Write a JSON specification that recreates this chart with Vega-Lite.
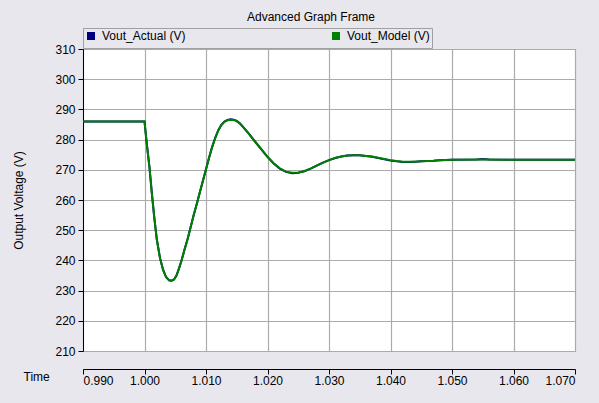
{
  "$schema": "https://vega.github.io/schema/vega-lite/v6.json",
  "width": 492,
  "height": 302,
  "autosize": {"type": "none"},
  "padding": {"left": 83, "top": 49, "right": 24, "bottom": 52},
  "background": "#e8e7ee",
  "title": {"text": "Advanced Graph Frame", "font": "Liberation Sans", "fontSize": 12, "fontWeight": "normal", "color": "#000000", "anchor": "middle", "dx": -18, "offset": 4},
  "config": {
    "view": {"fill": "white", "stroke": "#a0a0a0"},
    "axis": {"labelFont": "Liberation Sans", "labelFontSize": 12, "labelColor": "#000000", "titleFont": "Liberation Sans", "titleFontSize": 12, "titleFontWeight": "normal", "titleColor": "#000000", "domainColor": "#000000", "tickColor": "#000000", "gridColor": "#ababab", "gridWidth": 1.2, "tickSize": 5},
    "legend": {"labelFont": "Liberation Sans", "labelFontSize": 12, "labelColor": "#000000"}
  },
  "data": {"values": [
    {"t": 0.990, "v": 286.0, "s": "Vout_Actual (V)"},
    {"t": 1.0000, "v": 286.0, "s": "Vout_Actual (V)"},
    {"t": 1.0004, "v": 278.2, "s": "Vout_Actual (V)"},
    {"t": 1.0008, "v": 271.0, "s": "Vout_Actual (V)"},
    {"t": 1.0012, "v": 262.2, "s": "Vout_Actual (V)"},
    {"t": 1.0016, "v": 254.0, "s": "Vout_Actual (V)"},
    {"t": 1.0020, "v": 247.0, "s": "Vout_Actual (V)"},
    {"t": 1.0025, "v": 241.0, "s": "Vout_Actual (V)"},
    {"t": 1.0030, "v": 237.0, "s": "Vout_Actual (V)"},
    {"t": 1.0035, "v": 234.5, "s": "Vout_Actual (V)"},
    {"t": 1.0040, "v": 233.4, "s": "Vout_Actual (V)"},
    {"t": 1.0044, "v": 233.3, "s": "Vout_Actual (V)"},
    {"t": 1.0048, "v": 233.7, "s": "Vout_Actual (V)"},
    {"t": 1.0052, "v": 235.0, "s": "Vout_Actual (V)"},
    {"t": 1.0056, "v": 237.3, "s": "Vout_Actual (V)"},
    {"t": 1.0060, "v": 239.8, "s": "Vout_Actual (V)"},
    {"t": 1.0065, "v": 243.5, "s": "Vout_Actual (V)"},
    {"t": 1.0070, "v": 247.0, "s": "Vout_Actual (V)"},
    {"t": 1.0075, "v": 251.0, "s": "Vout_Actual (V)"},
    {"t": 1.0080, "v": 255.0, "s": "Vout_Actual (V)"},
    {"t": 1.0085, "v": 258.7, "s": "Vout_Actual (V)"},
    {"t": 1.0090, "v": 262.6, "s": "Vout_Actual (V)"},
    {"t": 1.0095, "v": 266.4, "s": "Vout_Actual (V)"},
    {"t": 1.0100, "v": 270.2, "s": "Vout_Actual (V)"},
    {"t": 1.0105, "v": 274.0, "s": "Vout_Actual (V)"},
    {"t": 1.0110, "v": 277.6, "s": "Vout_Actual (V)"},
    {"t": 1.0115, "v": 280.6, "s": "Vout_Actual (V)"},
    {"t": 1.0120, "v": 283.1, "s": "Vout_Actual (V)"},
    {"t": 1.0125, "v": 284.9, "s": "Vout_Actual (V)"},
    {"t": 1.0130, "v": 286.0, "s": "Vout_Actual (V)"},
    {"t": 1.0135, "v": 286.5, "s": "Vout_Actual (V)"},
    {"t": 1.0140, "v": 286.7, "s": "Vout_Actual (V)"},
    {"t": 1.0145, "v": 286.6, "s": "Vout_Actual (V)"},
    {"t": 1.0150, "v": 286.2, "s": "Vout_Actual (V)"},
    {"t": 1.0155, "v": 285.4, "s": "Vout_Actual (V)"},
    {"t": 1.0160, "v": 284.3, "s": "Vout_Actual (V)"},
    {"t": 1.0170, "v": 281.9, "s": "Vout_Actual (V)"},
    {"t": 1.0180, "v": 279.3, "s": "Vout_Actual (V)"},
    {"t": 1.0190, "v": 276.8, "s": "Vout_Actual (V)"},
    {"t": 1.0200, "v": 274.3, "s": "Vout_Actual (V)"},
    {"t": 1.0210, "v": 272.1, "s": "Vout_Actual (V)"},
    {"t": 1.0220, "v": 270.4, "s": "Vout_Actual (V)"},
    {"t": 1.0230, "v": 269.3, "s": "Vout_Actual (V)"},
    {"t": 1.0240, "v": 268.9, "s": "Vout_Actual (V)"},
    {"t": 1.0250, "v": 269.0, "s": "Vout_Actual (V)"},
    {"t": 1.0260, "v": 269.5, "s": "Vout_Actual (V)"},
    {"t": 1.0270, "v": 270.4, "s": "Vout_Actual (V)"},
    {"t": 1.0280, "v": 271.4, "s": "Vout_Actual (V)"},
    {"t": 1.0290, "v": 272.4, "s": "Vout_Actual (V)"},
    {"t": 1.0300, "v": 273.2, "s": "Vout_Actual (V)"},
    {"t": 1.0310, "v": 273.9, "s": "Vout_Actual (V)"},
    {"t": 1.0320, "v": 274.4, "s": "Vout_Actual (V)"},
    {"t": 1.0330, "v": 274.7, "s": "Vout_Actual (V)"},
    {"t": 1.0340, "v": 274.8, "s": "Vout_Actual (V)"},
    {"t": 1.0350, "v": 274.8, "s": "Vout_Actual (V)"},
    {"t": 1.0360, "v": 274.6, "s": "Vout_Actual (V)"},
    {"t": 1.0370, "v": 274.3, "s": "Vout_Actual (V)"},
    {"t": 1.0380, "v": 273.9, "s": "Vout_Actual (V)"},
    {"t": 1.0390, "v": 273.5, "s": "Vout_Actual (V)"},
    {"t": 1.0400, "v": 273.1, "s": "Vout_Actual (V)"},
    {"t": 1.0410, "v": 272.8, "s": "Vout_Actual (V)"},
    {"t": 1.0420, "v": 272.6, "s": "Vout_Actual (V)"},
    {"t": 1.0430, "v": 272.6, "s": "Vout_Actual (V)"},
    {"t": 1.0440, "v": 272.7, "s": "Vout_Actual (V)"},
    {"t": 1.0450, "v": 272.8, "s": "Vout_Actual (V)"},
    {"t": 1.0460, "v": 272.9, "s": "Vout_Actual (V)"},
    {"t": 1.0470, "v": 273.0, "s": "Vout_Actual (V)"},
    {"t": 1.0480, "v": 273.2, "s": "Vout_Actual (V)"},
    {"t": 1.0500, "v": 273.3, "s": "Vout_Actual (V)"},
    {"t": 1.0540, "v": 273.4, "s": "Vout_Actual (V)"},
    {"t": 1.0550, "v": 273.6, "s": "Vout_Actual (V)"},
    {"t": 1.0560, "v": 273.4, "s": "Vout_Actual (V)"},
    {"t": 1.0600, "v": 273.3, "s": "Vout_Actual (V)"},
    {"t": 1.0700, "v": 273.3, "s": "Vout_Actual (V)"},
    {"t": 0.990, "v": 286.0, "s": "Vout_Model (V)"},
    {"t": 1.0000, "v": 286.0, "s": "Vout_Model (V)"},
    {"t": 1.0004, "v": 278.0, "s": "Vout_Model (V)"},
    {"t": 1.0008, "v": 271.0, "s": "Vout_Model (V)"},
    {"t": 1.0012, "v": 262.0, "s": "Vout_Model (V)"},
    {"t": 1.0016, "v": 254.0, "s": "Vout_Model (V)"},
    {"t": 1.0020, "v": 247.0, "s": "Vout_Model (V)"},
    {"t": 1.0025, "v": 241.0, "s": "Vout_Model (V)"},
    {"t": 1.0030, "v": 237.0, "s": "Vout_Model (V)"},
    {"t": 1.0035, "v": 234.5, "s": "Vout_Model (V)"},
    {"t": 1.0040, "v": 233.4, "s": "Vout_Model (V)"},
    {"t": 1.0044, "v": 233.3, "s": "Vout_Model (V)"},
    {"t": 1.0048, "v": 233.7, "s": "Vout_Model (V)"},
    {"t": 1.0052, "v": 235.0, "s": "Vout_Model (V)"},
    {"t": 1.0056, "v": 237.3, "s": "Vout_Model (V)"},
    {"t": 1.0060, "v": 239.8, "s": "Vout_Model (V)"},
    {"t": 1.0065, "v": 243.5, "s": "Vout_Model (V)"},
    {"t": 1.0070, "v": 247.0, "s": "Vout_Model (V)"},
    {"t": 1.0075, "v": 251.0, "s": "Vout_Model (V)"},
    {"t": 1.0080, "v": 255.0, "s": "Vout_Model (V)"},
    {"t": 1.0085, "v": 258.7, "s": "Vout_Model (V)"},
    {"t": 1.0090, "v": 262.6, "s": "Vout_Model (V)"},
    {"t": 1.0095, "v": 266.4, "s": "Vout_Model (V)"},
    {"t": 1.0100, "v": 270.2, "s": "Vout_Model (V)"},
    {"t": 1.0105, "v": 274.0, "s": "Vout_Model (V)"},
    {"t": 1.0110, "v": 277.5, "s": "Vout_Model (V)"},
    {"t": 1.0115, "v": 280.5, "s": "Vout_Model (V)"},
    {"t": 1.0120, "v": 283.0, "s": "Vout_Model (V)"},
    {"t": 1.0125, "v": 284.8, "s": "Vout_Model (V)"},
    {"t": 1.0130, "v": 285.9, "s": "Vout_Model (V)"},
    {"t": 1.0135, "v": 286.4, "s": "Vout_Model (V)"},
    {"t": 1.0140, "v": 286.6, "s": "Vout_Model (V)"},
    {"t": 1.0145, "v": 286.5, "s": "Vout_Model (V)"},
    {"t": 1.0150, "v": 286.1, "s": "Vout_Model (V)"},
    {"t": 1.0155, "v": 285.3, "s": "Vout_Model (V)"},
    {"t": 1.0160, "v": 284.2, "s": "Vout_Model (V)"},
    {"t": 1.0170, "v": 281.8, "s": "Vout_Model (V)"},
    {"t": 1.0180, "v": 279.2, "s": "Vout_Model (V)"},
    {"t": 1.0190, "v": 276.8, "s": "Vout_Model (V)"},
    {"t": 1.0200, "v": 274.3, "s": "Vout_Model (V)"},
    {"t": 1.0210, "v": 272.2, "s": "Vout_Model (V)"},
    {"t": 1.0220, "v": 270.5, "s": "Vout_Model (V)"},
    {"t": 1.0230, "v": 269.4, "s": "Vout_Model (V)"},
    {"t": 1.0240, "v": 269.0, "s": "Vout_Model (V)"},
    {"t": 1.0250, "v": 269.1, "s": "Vout_Model (V)"},
    {"t": 1.0260, "v": 269.6, "s": "Vout_Model (V)"},
    {"t": 1.0270, "v": 270.4, "s": "Vout_Model (V)"},
    {"t": 1.0280, "v": 271.4, "s": "Vout_Model (V)"},
    {"t": 1.0290, "v": 272.3, "s": "Vout_Model (V)"},
    {"t": 1.0300, "v": 273.2, "s": "Vout_Model (V)"},
    {"t": 1.0310, "v": 273.9, "s": "Vout_Model (V)"},
    {"t": 1.0320, "v": 274.4, "s": "Vout_Model (V)"},
    {"t": 1.0330, "v": 274.7, "s": "Vout_Model (V)"},
    {"t": 1.0340, "v": 274.8, "s": "Vout_Model (V)"},
    {"t": 1.0350, "v": 274.8, "s": "Vout_Model (V)"},
    {"t": 1.0360, "v": 274.6, "s": "Vout_Model (V)"},
    {"t": 1.0370, "v": 274.4, "s": "Vout_Model (V)"},
    {"t": 1.0380, "v": 274.0, "s": "Vout_Model (V)"},
    {"t": 1.0390, "v": 273.6, "s": "Vout_Model (V)"},
    {"t": 1.0400, "v": 273.2, "s": "Vout_Model (V)"},
    {"t": 1.0410, "v": 272.9, "s": "Vout_Model (V)"},
    {"t": 1.0420, "v": 272.7, "s": "Vout_Model (V)"},
    {"t": 1.0430, "v": 272.7, "s": "Vout_Model (V)"},
    {"t": 1.0440, "v": 272.7, "s": "Vout_Model (V)"},
    {"t": 1.0450, "v": 272.8, "s": "Vout_Model (V)"},
    {"t": 1.0460, "v": 272.9, "s": "Vout_Model (V)"},
    {"t": 1.0470, "v": 273.0, "s": "Vout_Model (V)"},
    {"t": 1.0480, "v": 273.2, "s": "Vout_Model (V)"},
    {"t": 1.0500, "v": 273.3, "s": "Vout_Model (V)"},
    {"t": 1.0550, "v": 273.4, "s": "Vout_Model (V)"},
    {"t": 1.0600, "v": 273.3, "s": "Vout_Model (V)"},
    {"t": 1.0700, "v": 273.3, "s": "Vout_Model (V)"}
  ]},
  "mark": {"type": "line", "strokeWidth": 2, "clip": true},
  "encoding": {
    "x": {"field": "t", "type": "quantitative", "scale": {"domain": [0.99, 1.07], "nice": false, "zero": false},
      "axis": {"values": [0.99, 1.0, 1.01, 1.02, 1.03, 1.04, 1.05, 1.06, 1.07], "format": ".3f", "title": "Time", "offset": 18, "titleAnchor": "start", "titleAlign": "left", "titleBaseline": "top", "titleX": -60, "titleY": 2, "labelPadding": 1, "gridColor": "#ababab"}},
    "y": {"field": "v", "type": "quantitative", "scale": {"domain": [210, 310], "nice": false, "zero": false},
      "axis": {"values": [210, 220, 230, 240, 250, 260, 270, 280, 290, 300, 310], "title": "Output Voltage (V)", "titlePadding": 29, "labelPadding": 3}},
    "color": {"field": "s", "type": "nominal", "scale": {"domain": ["Vout_Actual (V)", "Vout_Model (V)"], "range": ["#000080", "#008000"]},
      "legend": {"title": null, "orient": "top", "direction": "horizontal", "symbolType": "square", "symbolSize": 16, "symbolStrokeWidth": 4, "labelOffset": 5, "columnPadding": 140, "fillColor": "#e8e7ee", "strokeColor": "#a0a0a0", "padding": 2, "offset": 1}}
  }
}
